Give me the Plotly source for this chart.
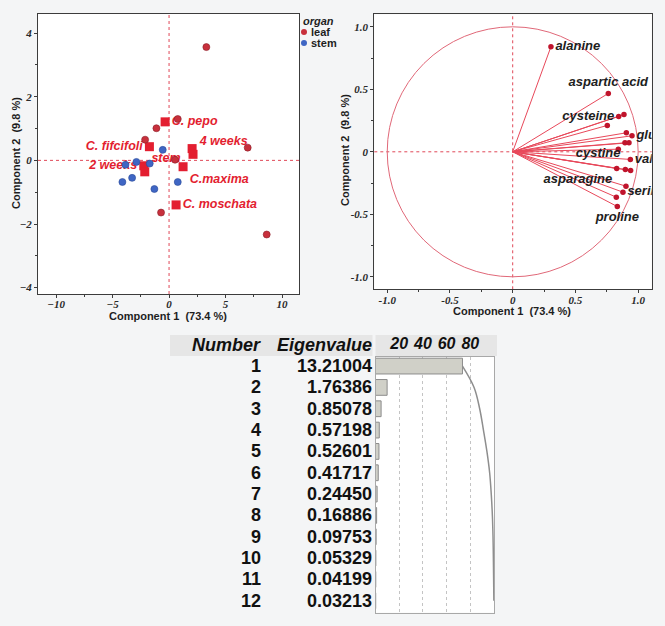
import plotly.graph_objects as go

W, H = 665, 626

# ---------------- data ----------------
# score plot (Component 1 vs Component 2)
leaf_x = [3.30, 0.77, -1.12, -2.12, 6.96, 0.53, -0.71, 8.64]
leaf_y = [3.56, 1.30, 1.01, 0.65, 0.40, 0.02, -1.64, -2.33]
stem_x = [-0.56, -2.89, -3.86, -1.71, -4.13, -3.27, -1.30, 0.77]
stem_y = [0.33, -0.05, -0.14, -0.10, -0.68, -0.55, -0.90, -0.68]
group_names = ["C. pepo", "C. fifcifoli", "leaf", "4 weeks", "2 weeks", "stem", "C.maxima", "C. moschata"]
group_labels = ["C. pepo", "C. fifcifoli", "", "4 weeks", "2 weeks", "stem", "C.maxima", "C. moschata"]
group_x = [-0.35, -1.74, 2.04, 2.12, -2.24, -2.15, 1.24, 0.62]
group_y = [1.21, 0.43, 0.37, 0.19, -0.17, -0.36, -0.20, -1.40]

# loading plot
load_x = [0.305, 0.762, 0.887, 0.845, 0.754, 0.906, 0.951, 0.895, 0.927,
          0.842, 0.938, 0.829, 0.898, 0.940, 0.903, 0.879, 0.826, 0.834]
load_y = [0.841, 0.467, 0.299, 0.283, 0.211, 0.152, 0.128, 0.072, 0.072,
          0.021, -0.061, -0.134, -0.142, -0.150, -0.275, -0.323, -0.363, -0.438]
load_labels = ["alanine", "aspartic acid", "", "cysteine", "", "", "glutamic acid", "cystine", "",
               "", "valine", "asparagine", "", "", "", "serine", "", "proline"]

# eigenvalue table
eig_number = [1, 2, 3, 4, 5, 6, 7, 8, 9, 10, 11, 12]
eigenvalues = [13.21004, 1.76386, 0.85078, 0.57198, 0.52601, 0.41717,
               0.24450, 0.16886, 0.09753, 0.05329, 0.04199, 0.03213]
bar_ticks = [20, 40, 60, 80]

# ---------------- styles ----------------
group_pos = ["middle right", "middle left", "middle right", "top right", "middle left",
             "top right", "bottom right", "middle right"]
load_pos = ["middle right", "top center", "middle left", "middle left", "middle left", "middle left",
            "middle right", "bottom left", "middle left", "middle left", "middle right", "bottom left",
            "middle left", "middle left", "middle left", "middle right", "middle left", "bottom center"]

LEAF = "#C8303C"
STEM = "#3F66C4"
SQ = "#E31E30"
SANS = "Liberation Sans, Arial, sans-serif"
SERIF = "Liberation Serif, Times New Roman, serif"
BG = "#F4F5F6"

def px(x):
    return x / W

def py(y):
    return 1 - y / H

fig = go.Figure()

# group means (squares with labels) drawn first so circles lie on top
fig.add_trace(go.Scatter(
    x=group_x, y=group_y, mode="markers+text", text=group_labels, textposition=group_pos,
    marker=dict(symbol="square", size=9, color=SQ, line=dict(width=0)),
    textfont=dict(family=SANS, size=12.5, color=SQ, weight="bold", style="italic"),
    hovertext=group_names, showlegend=False, xaxis="x", yaxis="y", cliponaxis=False))
fig.add_trace(go.Scatter(
    x=leaf_x, y=leaf_y, mode="markers", name="leaf",
    marker=dict(size=7, color=LEAF, line=dict(width=0.6, color="#8A1E28")),
    showlegend=False, xaxis="x", yaxis="y"))
fig.add_trace(go.Scatter(
    x=stem_x, y=stem_y, mode="markers", name="stem",
    marker=dict(size=7, color=STEM, line=dict(width=0.6, color="#2A4A99")),
    showlegend=False, xaxis="x", yaxis="y"))

# loading vectors
vx, vy = [], []
for a, b in zip(load_x, load_y):
    vx += [0, a, None]
    vy += [0, b, None]
fig.add_trace(go.Scatter(x=vx, y=vy, mode="lines", line=dict(color="#E8485A", width=1),
                         showlegend=False, xaxis="x2", yaxis="y2", hoverinfo="skip"))
fig.add_trace(go.Scatter(
    x=load_x, y=load_y, mode="markers+text", text=load_labels, textposition=load_pos,
    marker=dict(size=5.5, color="#C0142C"),
    textfont=dict(family=SANS, size=13, color="#1E1E1E", weight="bold", style="italic"),
    showlegend=False, xaxis="x2", yaxis="y2", cliponaxis=True))

# eigenvalue bars (percent of total variance) and cumulative curve
n_vars = len(load_x)
pct = [v / n_vars * 100 for v in eigenvalues]
cum = []
s = 0
for p in pct:
    s += p
    cum.append(s)
fig.add_trace(go.Bar(
    x=pct, y=eig_number, orientation="h", width=0.74,
    marker=dict(color="#D0D0C8", line=dict(color="#8C8C8C", width=1)),
    showlegend=False, xaxis="x4", yaxis="y3"))
fig.add_trace(go.Scatter(
    x=cum, y=eig_number, mode="lines", line=dict(color="#8E8E8E", width=1.5, shape="spline"),
    showlegend=False, xaxis="x4", yaxis="y3", cliponaxis=False))

tick_font = dict(family=SERIF, size=11, color="#2A2A2A", weight="bold", style="italic")
frame = dict(showline=True, mirror=True, linecolor="#3C3C3C", linewidth=1,
             showgrid=False, zeroline=False, ticks="outside", ticklen=3,
             tickcolor="#3C3C3C", tickfont=tick_font)

layout = dict(
    width=W, height=H, margin=dict(l=0, r=0, t=0, b=0),
    paper_bgcolor=BG, plot_bgcolor="white", showlegend=False,
    xaxis=dict(domain=[px(38), px(299)], range=[-11.6, 11.5], tickvals=[-10, -5, 0, 5, 10],
               minor=dict(ticks="outside", ticklen=2, dtick=2.5, tick0=0, tickcolor="#3C3C3C"),
               anchor="y", ticklabelstandoff=-3, **frame),
    yaxis=dict(domain=[py(294), py(14)], range=[-4.2, 4.6], tickvals=[-4, -2, 0, 2, 4],
               minor=dict(ticks="outside", ticklen=2, dtick=1, tick0=0, tickcolor="#3C3C3C"),
               anchor="x", **frame),
    xaxis2=dict(domain=[px(374.3), px(651.7)], range=[-1.103, 1.108],
                tickvals=[-1, -0.5, 0, 0.5, 1], ticktext=["-1.0", "-0.5", "0", "0.5", "1.0"],
                minor=dict(ticks="outside", ticklen=2, dtick=0.25, tick0=0, tickcolor="#3C3C3C"),
                anchor="y2", ticklabelstandoff=-3, **frame),
    yaxis2=dict(domain=[py(289.3), py(14.3)], range=[-1.10, 1.10],
                tickvals=[-1, -0.5, 0, 0.5, 1], ticktext=["-1.0", "-0.5", "0", "0.5", "1.0"],
                minor=dict(ticks="outside", ticklen=2, dtick=0.25, tick0=0, tickcolor="#3C3C3C"),
                anchor="x2", **frame),
    xaxis4=dict(domain=[px(375.5), px(494)], range=[0, 100], side="top", anchor="y3",
                tickvals=bar_ticks, ticks="", showgrid=True, gridcolor="#C4C4C4", griddash="dot",
                gridwidth=1, showline=True, mirror=True, linecolor="#A8A8A8", zeroline=False,
                tickfont=dict(family=SANS, size=16, color="#111", weight="bold", style="italic")),
    yaxis3=dict(domain=[py(612.7), py(356.7)], range=[12.56, 0.56], anchor="x4",
                showticklabels=False, ticks="", showgrid=False, zeroline=False,
                showline=True, mirror=True, linecolor="#A8A8A8"),
)
fig.update_layout(**layout)

shapes = []
# dotted zero lines
zl = dict(color="#E04858", width=1, dash="dot")
shapes.append(dict(type="line", xref="x", yref="y domain", x0=0, x1=0, y0=0, y1=1, line=zl, layer="below"))
shapes.append(dict(type="line", xref="x domain", yref="y", x0=0, x1=1, y0=0, y1=0, line=zl, layer="below"))
shapes.append(dict(type="line", xref="x2", yref="y2 domain", x0=0, x1=0, y0=0, y1=1, line=zl, layer="below"))
shapes.append(dict(type="line", xref="x2 domain", yref="y2", x0=0, x1=1, y0=0, y1=0, line=zl, layer="below"))
# unit circle
shapes.append(dict(type="circle", xref="x2", yref="y2", x0=-1, x1=1, y0=-1, y1=1,
                   line=dict(color="#E06878", width=1), layer="below"))
# table header backgrounds
shapes.append(dict(type="rect", xref="paper", yref="paper", x0=px(170), x1=px(372.5),
                   y0=py(356), y1=py(335), fillcolor="#E6E6E6", line=dict(width=0), layer="below"))
shapes.append(dict(type="rect", xref="paper", yref="paper", x0=px(375.5), x1=px(497),
                   y0=py(356), y1=py(335), fillcolor="#E6E6E6", line=dict(width=0), layer="below"))
# legend markers
for yy, col in [(32, LEAF), (43, STEM)]:
    shapes.append(dict(type="circle", xref="paper", yref="paper", x0=px(301), x1=px(307),
                       y0=py(yy + 3), y1=py(yy - 3), fillcolor=col, line=dict(width=0)))

ann = []

def note(text, x, y, font, xanchor="center", yanchor="middle", yref="paper", **kw):
    ann.append(dict(text=text, xref="paper", yref=yref, x=x, y=y, xanchor=xanchor,
                    yanchor=yanchor, showarrow=False, font=font, **kw))

title_font = dict(family=SANS, size=11, color="#1E1E1E", weight="bold")
note("Component 1  (73.4 %)", px(168), py(316), title_font)
note("Component 2  (9.8 %)", px(16), py(153), title_font, textangle=-90)
note("Component 1  (73.4 %)", px(512), py(311), title_font)
note("Component 2  (9.8 %)", px(345), py(150), title_font, textangle=-90)
# legend text
note("organ", px(301), py(21), dict(family=SANS, size=11, color="#1E1E1E", weight="bold", style="italic"),
     xanchor="left")
for yy, name in [(32, "leaf"), (43, "stem")]:
    note(name, px(309), py(yy), dict(family=SANS, size=11, color="#1E1E1E", weight="bold"), xanchor="left")
# table header
hdr_font = dict(family=SANS, size=18, color="#111", weight="bold", style="italic")
note("Number", px(263), py(345), hdr_font, xanchor="right")
note("Eigenvalue", px(374), py(345), hdr_font, xanchor="right")
cell_font = dict(family=SANS, size=18, color="#111", weight="bold")
for n, v in zip(eig_number, eigenvalues):
    note(str(n), px(263), n, cell_font, xanchor="right", yref="y3")
    note(f"{v:.5f}", px(374), n, cell_font, xanchor="right", yref="y3")

fig.update_layout(shapes=shapes, annotations=ann)
fig.write_html("out.html")
